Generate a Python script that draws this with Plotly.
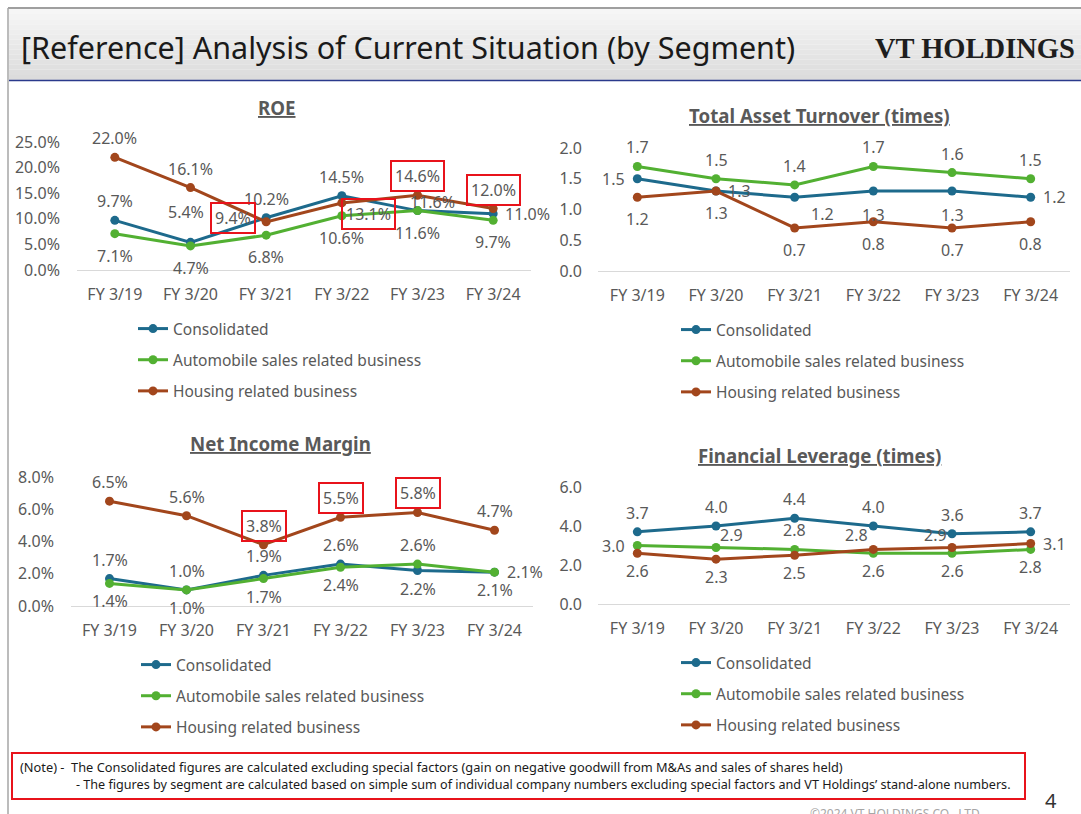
import plotly.graph_objects as go

W, H = 1081, 814

# data -------------------------------------------------------------------------
categories = ["FY 3/19", "FY 3/20", "FY 3/21", "FY 3/22", "FY 3/23", "FY 3/24"]
series_names = [
    "Consolidated",
    "Automobile sales related business",
    "Housing related business",
]

roe_consolidated = [9.7, 5.4, 10.2, 14.5, 11.6, 11.0]
roe_automobile = [7.1, 4.7, 6.8, 10.6, 11.6, 9.7]
roe_housing = [22.0, 16.1, 9.4, 13.1, 14.6, 12.0]

tat_consolidated = [1.5, 1.3, 1.2, 1.3, 1.3, 1.2]
tat_automobile = [1.7, 1.5, 1.4, 1.7, 1.6, 1.5]
tat_housing = [1.2, 1.3, 0.7, 0.8, 0.7, 0.8]

nim_consolidated = [1.7, 1.0, 1.9, 2.6, 2.2, 2.1]
nim_automobile = [1.4, 1.0, 1.7, 2.4, 2.6, 2.1]
nim_housing = [6.5, 5.6, 3.8, 5.5, 5.8, 4.7]

lev_consolidated = [3.7, 4.0, 4.4, 4.0, 3.6, 3.7]
lev_automobile = [3.0, 2.9, 2.8, 2.6, 2.6, 2.8]
lev_housing = [2.6, 2.3, 2.5, 2.8, 2.9, 3.1]

# styling ----------------------------------------------------------------------
COLORS = ["#1d6a8c", "#52b032", "#a2461c"]
GRAY = "#595959"
RED = "#e8131b"
FONT = "Noto Sans"


def fx(px):
    return px / W


def fy(py):
    return 1 - py / H


# label placement: (xshift, yshift, xanchor)
T = (0, 19, "center")
B = (0, -22, "center")
Bs = (0, -18, "center")
L = (-9, 0, "right")
R = (9, 0, "left")

charts = [
    dict(
        title="ROE", ax="", fmt="{:.1f}%", yrange=[0, 25], dtick=5, tickfmt=".1f", suffix="%",
        xdom=(77, 531), ydom=(142, 270), title_pos=(277, 108), legend_pos=(133, 312),
        ystandoff=16,
        values=[roe_consolidated, roe_automobile, roe_housing],
        pos=[
            [T, (-5, 30, "center"), T, T, (15, 9, "center"), R],
            [B, B, B, B, B, B],
            [T, T, (-10, 4, "right"), (27, -11, "center"), T, T],
        ],
        boxed=[[], [], [2, 3, 4, 5]],
    ),
    dict(
        title="Total Asset Turnover (times)", ax="2", fmt="{:.1f}", yrange=[0, 2], dtick=0.5,
        tickfmt=".1f", suffix="",
        xdom=(598, 1070), ydom=(148, 271), title_pos=(819, 116), legend_pos=(676, 313),
        ystandoff=15,
        values=[tat_consolidated, tat_automobile, tat_housing],
        pos=[
            [L, R, (13, -17, "left"), (0, -24, "center"), (0, -24, "center"), R],
            [T, T, T, T, T, T],
            [B, B, B, B, B, B],
        ],
        boxed=[[], [], []],
    ),
    dict(
        title="Net Income Margin", ax="3", fmt="{:.1f}%", yrange=[0, 8], dtick=2, tickfmt=".1f",
        suffix="%",
        xdom=(71, 533), ydom=(477, 606), title_pos=(280, 444), legend_pos=(136, 648),
        ystandoff=16,
        values=[nim_consolidated, nim_automobile, nim_housing],
        pos=[
            [T, T, T, T, Bs, R],
            [Bs, Bs, Bs, Bs, T, Bs],
            [T, T, T, T, T, T],
        ],
        boxed=[[], [], [2, 3, 4]],
    ),
    dict(
        title="Financial Leverage (times)", ax="4", fmt="{:.1f}", yrange=[0, 6], dtick=2,
        tickfmt=".1f", suffix="",
        xdom=(598, 1070), ydom=(487, 604), title_pos=(819, 455), legend_pos=(676, 646),
        ystandoff=15,
        values=[lev_consolidated, lev_automobile, lev_housing],
        pos=[
            [T, T, T, T, T, T],
            [L, (1, 12, "left"), T, Bs, Bs, Bs],
            [Bs, Bs, Bs, (-17, 14, "center"), (-17, 12, "center"), R],
        ],
        boxed=[[], [], []],
    ),
]

fig = go.Figure()
annotations = []
shapes = []

for ci, ch in enumerate(charts):
    ax = ch["ax"]
    legend_name = "legend" + ax
    for si, (name, vals) in enumerate(zip(series_names, ch["values"])):
        fig.add_trace(
            go.Scatter(
                x=categories,
                y=vals,
                name=name,
                mode="lines+markers",
                line=dict(color=COLORS[si], width=3),
                marker=dict(color=COLORS[si], size=9),
                xaxis="x" + ax,
                yaxis="y" + ax,
                legend=legend_name,
                legendgroup=f"{ci}-{si}",
                cliponaxis=False,
            )
        )
        for pi, (cat, v) in enumerate(zip(categories, vals)):
            xs, ys, xa = ch["pos"][si][pi]
            boxed = pi in ch["boxed"][si]
            annotations.append(
                dict(
                    x=cat, y=v, xref="x" + ax, yref="y" + ax,
                    text=ch["fmt"].format(v), showarrow=False,
                    xshift=xs, yshift=ys, xanchor=xa, yanchor="middle",
                    font=dict(size=16, color=GRAY, family=FONT),
                    bordercolor=RED if boxed else "rgba(0,0,0,0)",
                    borderwidth=2 if boxed else 0,
                    borderpad=3,
                )
            )

    x0, x1 = ch["xdom"]
    y0, y1 = ch["ydom"]
    fig.update_layout(
        **{
            "xaxis" + ax: dict(
                domain=[fx(x0), fx(x1)], type="category", range=[-0.5, 5.5],
                showgrid=False, zeroline=False, showline=True, linecolor="#d9d9d9",
                linewidth=1, ticks="", ticklabelstandoff=10, automargin=False,
                tickfont=dict(size=16, color=GRAY, family=FONT), anchor="y" + ax,
                fixedrange=True,
            ),
            "yaxis" + ax: dict(
                domain=[fy(y1), fy(y0)], range=ch["yrange"], dtick=ch["dtick"],
                tickformat=ch["tickfmt"], ticksuffix=ch["suffix"], showgrid=False,
                zeroline=False, showline=False, ticks="", ticklabelstandoff=ch["ystandoff"],
                automargin=False, tickfont=dict(size=16, color=GRAY, family=FONT),
                anchor="x" + ax, fixedrange=True,
            ),
            legend_name: dict(
                x=fx(ch["legend_pos"][0]), y=fy(ch["legend_pos"][1]),
                xanchor="left", yanchor="top", bgcolor="rgba(0,0,0,0)",
                font=dict(size=15.5, color=GRAY, family=FONT),
                tracegroupgap=8, itemwidth=30,
            ),
        }
    )
    tx, ty = ch["title_pos"]
    annotations.append(
        dict(
            x=fx(tx), y=fy(ty), xref="paper", yref="paper",
            text=f"<b><u>{ch['title']}</u></b>", showarrow=False,
            font=dict(size=18.7, color=GRAY, family=FONT),
            xanchor="center", yanchor="middle",
        )
    )

# header band with a soft gradient
n_strips = 14
for i in range(n_strips):
    t = i / (n_strips - 1)
    g = int(246 - 26 * t)
    shapes.append(
        dict(
            type="rect", xref="paper", yref="paper", layer="below",
            x0=fx(9), x1=1, y0=fy(9 + 71 * (i + 1) / n_strips), y1=fy(9 + 71 * i / n_strips),
            fillcolor=f"rgb({g},{g},{g})", line=dict(width=0),
        )
    )
shapes += [
    dict(type="line", xref="paper", yref="paper", x0=fx(8), x1=1, y0=fy(8), y1=fy(8),
         line=dict(color="#7f7f7f", width=1.5)),
    dict(type="line", xref="paper", yref="paper", x0=fx(8), x1=fx(8), y0=0, y1=fy(8),
         line=dict(color="#a6a6a6", width=1.5)),
    dict(type="line", xref="paper", yref="paper", x0=fx(9), x1=1, y0=fy(80.5), y1=fy(80.5),
         line=dict(color="#2a3a8c", width=1.5)),
    dict(type="rect", xref="paper", yref="paper", x0=fx(12), x1=fx(1025), y0=fy(799),
         y1=fy(753), line=dict(color=RED, width=2)),
]

annotations += [
    dict(x=fx(19), y=fy(47), xref="paper", yref="paper", showarrow=False,
         text="[Reference] Analysis of Current Situation (by Segment)",
         xanchor="left", yanchor="middle", font=dict(size=30.5, color="#1a1a1a", family=FONT)),
    dict(x=fx(1077), y=fy(48), xref="paper", yref="paper", showarrow=False,
         text="<b>VT HOLDINGS</b>", xanchor="right", yanchor="middle",
         font=dict(size=28.5, color="#1e1e1e", family="Liberation Serif")),
    dict(x=fx(18), y=fy(767), xref="paper", yref="paper", showarrow=False,
         text="(Note) -  The Consolidated figures are calculated excluding special factors "
              "(gain on negative goodwill from M&As and sales of shares held)",
         xanchor="left", yanchor="middle", font=dict(size=12.8, color="#1a1a1a", family=FONT)),
    dict(x=fx(74), y=fy(784), xref="paper", yref="paper", showarrow=False,
         text="- The figures by segment are calculated based on simple sum of individual company "
              "numbers excluding special factors and VT Holdings\u2019 stand-alone numbers.",
         xanchor="left", yanchor="middle", font=dict(size=12.6, color="#1a1a1a", family=FONT)),
    dict(x=fx(1051), y=fy(800), xref="paper", yref="paper", showarrow=False, text="4",
         xanchor="center", yanchor="middle", font=dict(size=20, color="#333333", family=FONT)),
    dict(x=fx(985), y=fy(813), xref="paper", yref="paper", showarrow=False,
         text="\u00a92024 VT HOLDINGS CO., LTD.", xanchor="right", yanchor="middle",
         font=dict(size=12, color="#a6a6a6", family=FONT)),
]

fig.update_layout(
    width=W, height=H, autosize=False,
    margin=dict(l=0, r=0, t=0, b=0),
    paper_bgcolor="white", plot_bgcolor="white",
    annotations=annotations, shapes=shapes,
    font=dict(family=FONT, color=GRAY),
)

fig.write_html(
    "out.html",
    config={"displayModeBar": False},
    post_script="document.body.style.margin='0';",
)
